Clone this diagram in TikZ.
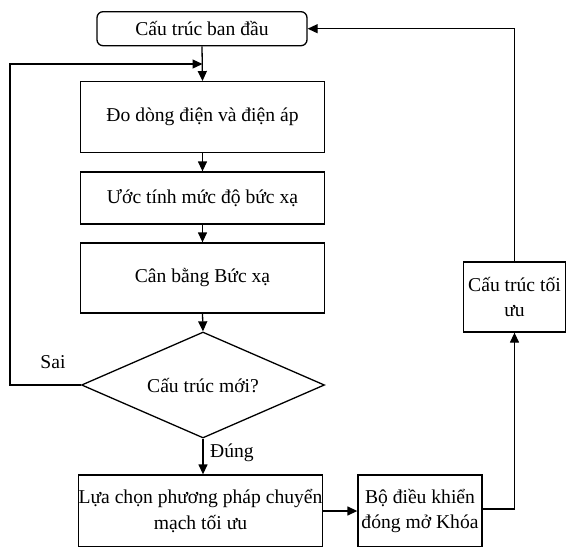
\documentclass[tikz,border=0pt]{standalone}
\usepackage{fontspec}
\setmainfont{Liberation Serif}
\usetikzlibrary{arrows.meta,shapes.geometric}
\begin{document}
\begin{tikzpicture}[x=1pt,y=-1pt,
  every node/.style={font=\fontsize{19.6}{25.5}\selectfont},
  box/.style={draw,line width=1.3pt,inner sep=0pt,align=center},
  conn/.style={line width=1.3pt,-{Triangle[length=10pt,width=9pt]}},
  plain/.style={line width=1.3pt}]
\useasboundingbox (0,0) rectangle (566,547);
\node[box,rounded corners=6pt,minimum width=210pt,minimum height=34pt] (top) at (202,28.7) {Cấu trúc ban đầu};
\node[box,minimum width=244pt,minimum height=71pt] (b1) at (202.5,117.2) {Đo dòng điện và điện áp};
\node[box,minimum width=244pt,minimum height=52pt] (b2) at (202.5,198) {Ước tính mức độ bức xạ};
\node[box,minimum width=244pt,minimum height=70pt] (b3) at (202.5,278) {Cân bằng Bức xạ};
\node[draw,line width=1.3pt,diamond,aspect=2.29,inner sep=0pt,minimum width=243pt,minimum height=106pt] (d) at (203,385) {};
\node (dt) at (203,386) {Cấu trúc mới?};
\node[box,minimum width=243pt,minimum height=72pt] (bl) at (200.5,511) {Lựa chọn phương pháp chuyển\\mạch tối ưu};
\node[box,minimum width=124pt,minimum height=72pt] (br) at (420,511) {Bộ điều khiển\\đóng mở Khóa};
\node[box,minimum width=102pt,minimum height=70pt] (ro) at (514.5,297) {Cấu trúc tối\\ưu};
\node (sai) at (53,362) {Sai};
\node (dung) at (232,453) {Đúng};
\coordinate (lp) at (10,64);
\coordinate (lj) at (202.5,64);
\draw[conn] (top.south) -- (b1.north);
\draw[conn] (b1.south) -- (b2.north);
\draw[conn] (b2.south) -- (b3.north);
\draw[conn] (b3.south) -- (d.north);
\draw[conn] (d.south) -- (d.south |- bl.north);
\draw[conn] (d.west) -| (lp) -- (lj);
\draw[conn] (bl.east |- 0,511) -- (br.west |- 0,511);
\draw[conn] (br.east |- 0,509) -| (ro.south);
\draw[conn] (ro.north) |- (top.east);
\end{tikzpicture}
\end{document}
